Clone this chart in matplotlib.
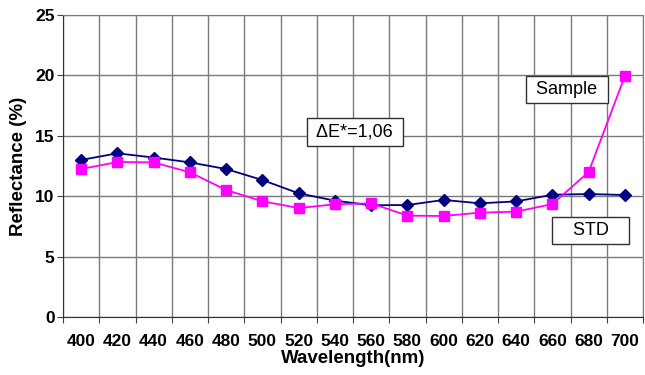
import matplotlib
matplotlib.use('Agg')

import matplotlib.pyplot as plt
import numpy as np

plt.rcParams['font.family'] = ['Liberation Sans', 'DejaVu Sans']

wavelengths = [400, 420, 440, 460, 480, 500, 520, 540, 560, 580, 600, 620, 640, 660, 680, 700]
std = [13.0, 13.55, 13.2, 12.8, 12.25, 11.34, 10.24, 9.63, 9.25, 9.27, 9.69, 9.41, 9.57, 10.12, 10.18, 10.1]
sample = [12.25, 12.83, 12.8, 11.98, 10.51, 9.58, 9.02, 9.33, 9.41, 8.39, 8.36, 8.64, 8.72, 9.35, 12.0, 19.95]

x = np.arange(len(wavelengths))

fig = plt.figure(figsize=(6.45, 3.75), dpi=100)
ax = fig.add_axes([63 / 645, 1 - 317 / 375, 580 / 645, 302 / 375])

ax.plot(x, std, color='#000080', marker='D', markersize=6, linewidth=1.3, zorder=3)
ax.plot(x, sample, color='#ff00ff', marker='s', markersize=7, linewidth=1.3, zorder=4)

ax.set_xlim(-0.5, len(wavelengths) - 0.5)
ax.set_ylim(0, 25)

# gridlines sit on category boundaries, labels in the middle
ax.set_xticks(np.arange(-0.5, len(wavelengths), 1.0))
ax.set_xticklabels([])
ax.set_xticks(x, minor=True)
ax.set_xticklabels([str(w) for w in wavelengths], minor=True)
ax.tick_params(axis='x', which='minor', length=0, pad=12)
ax.tick_params(axis='x', which='major', length=4, direction='out', color='#404040')
ax.set_yticks(range(0, 26, 5))
ax.tick_params(axis='y', length=4, direction='out', color='#404040', pad=2)

for lbl in ax.get_xticklabels(minor=True) + ax.get_yticklabels():
    lbl.set_fontsize(12.5)
    lbl.set_fontweight('bold')

ax.grid(True, which='major', color='#7a7a7a', linewidth=1.0)
ax.set_axisbelow(True)
for side in ['top', 'right']:
    ax.spines[side].set_color('#7a7a7a')
for side in ['left', 'bottom']:
    ax.spines[side].set_color('#303030')

ax.set_xlabel('Wavelength(nm)', fontsize=13.5, fontweight='bold', labelpad=1)
ax.set_ylabel('Reflectance (%)', fontsize=13.5, fontweight='bold', labelpad=6)

box = dict(boxstyle='square,pad=0.3', facecolor='white', edgecolor='#303030', linewidth=1.0)
ax.text(7.55, 15.3, ' \u0394E*=1,06 ', fontsize=13, ha='center', va='center', bbox=box, zorder=5)
ax.text(13.4, 18.83, ' Sample ', fontsize=13, ha='center', va='center', bbox=box, zorder=5)
ax.text(14.05, 7.16, '   STD   ', fontsize=13, ha='center', va='center', bbox=box, zorder=5)

fig.savefig('out.png', dpi=100)
